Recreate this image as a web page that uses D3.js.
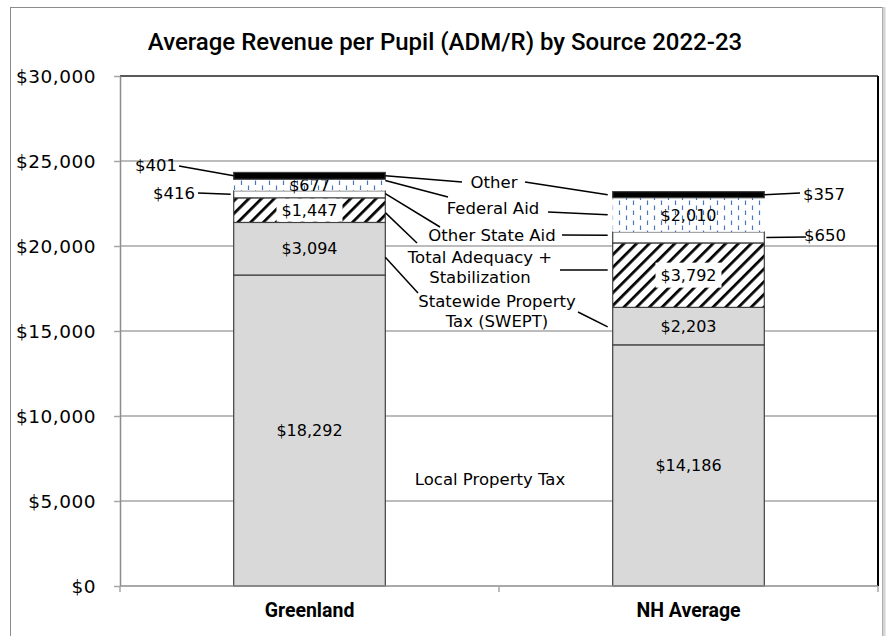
<!DOCTYPE html>
<html><head><meta charset="utf-8">
<script src="https://cdn.jsdelivr.net/npm/d3@7"></script>
<style>body{margin:0;background:#fff}text{fill:#000}</style>
</head><body><svg id="c" width="890" height="636"></svg>
<script>
const categories = ["Greenland", "NH Average"];
const sources = ["Local Property Tax", "Statewide Property Tax (SWEPT)", "Total Adequacy + Stabilization", "Other State Aid", "Federal Aid", "Other"];
const greenland = [18292, 3094, 1447, 416, 677, 401];
const nhAverage = [14186, 2203, 3792, 650, 2010, 357];
const yTicks = [0, 5000, 10000, 15000, 20000, 25000, 30000];
const title = "Average Revenue per Pupil (ADM/R) by Source 2022-23";

const BODY = "'DejaVu Sans', sans-serif", HEAD = "Roboto, 'Noto Sans', sans-serif";
const svg = d3.select("#c");
const m = {l:120, r:878, t:76, b:586};
const x = d3.scaleBand().domain(categories).range([m.l, m.r]).paddingInner(0.6).paddingOuter(0.3);
const y = d3.scaleLinear().domain([0, 30000]).range([m.b, m.t]);
const bw = x.bandwidth();
const fmt = v => "$" + d3.format(",")(v);

// defs
const defs = svg.append("defs");
const hatch = defs.append("pattern").attr("id","hatch").attr("patternUnits","userSpaceOnUse")
  .attr("width",9).attr("height",9).attr("patternTransform","rotate(45)");
hatch.append("rect").attr("width",9).attr("height",9).attr("fill","#fff");
hatch.append("line").attr("x1",0).attr("y1",0).attr("x2",0).attr("y2",9).attr("stroke","#000").attr("stroke-width",5.5);
const fed = defs.append("pattern").attr("id","fed").attr("patternUnits","userSpaceOnUse")
  .attr("width",14).attr("height",10);
fed.append("rect").attr("width",14).attr("height",10).attr("fill","#fff");
fed.append("line").attr("x1",3.5).attr("x2",3.5).attr("y1",0.5).attr("y2",5).attr("stroke","#4a78c0").attr("stroke-width",1.2);
fed.append("line").attr("x1",10.5).attr("x2",10.5).attr("y1",5.5).attr("y2",10).attr("stroke","#4a78c0").attr("stroke-width",1.2);

// outer frame
svg.append("rect").attr("x",10.5).attr("y",7.5).attr("width",872).attr("height",660).attr("fill","none").attr("stroke","#8c8c8c");
svg.append("line").attr("x1",884).attr("x2",884).attr("y1",7).attr("y2",636).attr("stroke","#d4d4d4").attr("stroke-width",3);

// title
svg.append("text").attr("x",445).attr("y",50).attr("text-anchor","middle")
  .style("font-family",HEAD).attr("font-size",24).attr("font-weight",500).text(title);

// gridlines
svg.append("g").selectAll("line").data(yTicks.filter(d=>d>0)).join("line")
  .attr("x1",m.l).attr("x2",m.r).attr("y1",d=>y(d)).attr("y2",d=>y(d))
  .attr("stroke",d=>d===30000?"#595959":"#a6a6a6").attr("stroke-width",d=>d===30000?2:1.5);
svg.append("line").attr("x1",m.r).attr("x2",m.r).attr("y1",m.t).attr("y2",m.b).attr("stroke","#000").attr("stroke-width",2);

// y axis
const ya = svg.append("g").attr("transform",`translate(${m.l},0)`)
  .call(d3.axisLeft(y).tickValues(yTicks).tickFormat(fmt).tickSize(6).tickSizeOuter(0));
ya.select(".domain").attr("stroke","#8c8c8c").attr("stroke-width",1.5);
ya.selectAll(".tick line").attr("stroke","#a6a6a6").attr("stroke-width",1.5);
ya.selectAll("text").attr("x",-24).attr("text-anchor","end").attr("font-size",18.5).attr("letter-spacing",0.5)
  .style("font-family",BODY).attr("fill","#000").attr("dy","0.36em");

// bars
const rows = categories.map((c,i)=>{ const vals = i===0?greenland:nhAverage; let acc=0;
  return vals.map((v,j)=>{ const s={cat:c, src:j, v, y0:acc, y1:acc+v}; acc+=v; return s;}); });
const fills = ["#d9d9d9","#d9d9d9","url(#hatch)","#fff","url(#fed)","#000"];
const drawSeg = (sel,s)=>sel.append("rect").attr("x",x(s.cat)).attr("width",bw).attr("y",y(s.y1)).attr("height",y(s.y0)-y(s.y1))
   .attr("fill",fills[s.src]).attr("stroke",s.src===4?"none":"#404040").attr("stroke-width",1.2);
const g = svg.append("g");
rows.flat().filter(s=>s.src!==5).forEach(s=>drawSeg(g,s));

// x axis
svg.append("line").attr("x1",m.l).attr("x2",m.r).attr("y1",m.b).attr("y2",m.b).attr("stroke","#8c8c8c").attr("stroke-width",1.5);
[m.l,(m.l+m.r)/2,m.r].forEach(px=>svg.append("line").attr("x1",px).attr("x2",px).attr("y1",m.b).attr("y2",m.b+6).attr("stroke","#a6a6a6").attr("stroke-width",1.5));
svg.append("g").selectAll("text").data(categories).join("text")
  .attr("x",d=>x(d)+bw/2).attr("y",617).attr("text-anchor","middle").style("font-family",HEAD)
  .attr("font-size",19.5).attr("font-weight",700).text(d=>d);

// value labels inside bars
const inside = [[0,1,2,4],[0,1,2,4]];
rows.forEach((r,i)=>{ inside[i].forEach(j=>{ const s=r[j]; const cx=x(s.cat)+bw/2; const cy=y((s.y0+s.y1)/2);
  const t = svg.append("text").attr("x",cx).attr("y",cy).attr("dy","0.36em").attr("text-anchor","middle").style("font-family",BODY).attr("font-size",16).text(fmt(s.v));
  if(j===2){ const bb=t.node().getBBox(); const h=Math.min(bb.height+6, y(s.y0)-y(s.y1)-1.5);
    svg.insert("rect", ()=>t.node()).attr("x",bb.x-5).attr("y",cy-h/2).attr("width",bb.width+10).attr("height",h).attr("fill","#fff"); }
});});
// "Other" segments drawn on top of labels
const g2 = svg.append("g");
rows.flat().filter(s=>s.src===5).forEach(s=>drawSeg(g2,s));

// side labels with leaders
const gl = rows[0], nh = rows[1];
const gx0 = x(categories[0]), gx1 = x(categories[0])+bw, nx0 = x(categories[1]), nx1 = x(categories[1])+bw;
const segY = (s,f)=>y(s.y0 + (s.y1-s.y0)*f);
const leader = (x1,y1,x2,y2)=>svg.append("line").attr("x1",x1).attr("y1",y1).attr("x2",x2).attr("y2",y2).attr("stroke","#000").attr("stroke-width",1.5);
const lab = (t,px,py,anchor)=>svg.append("text").attr("x",px).attr("y",py).attr("dy","0.36em").attr("text-anchor",anchor).style("font-family",BODY).attr("font-size",16.5).text(t);
lab(fmt(gl[5].v),177,165,"end"); leader(179,166,gx0,segY(gl[5],0.5));
lab(fmt(gl[3].v),195,193,"end"); leader(198,193,gx0-3,segY(gl[3],0.5));
lab(fmt(nh[5].v),803,194,"start"); leader(nx1,segY(nh[5],0.5),800,193);
lab(fmt(nh[3].v),804,235,"start"); leader(nx1+2,segY(nh[3],0.5),806,237);

// middle category labels with leaders to both bars
const mid = [
  {lines:["Other"], cx:494, cy:182, gf:0.5, nf:0.5, gl:[462,182], nl:[525,182]},
  {lines:["Federal Aid"], cx:493, cy:208, gf:0.9, nf:0.5, gl:[448,197], nl:[548,212]},
  {lines:["Other State Aid"], cx:492, cy:235, gf:0.6, nf:0.7, gl:[440,227], nl:[562,235]},
  {lines:["Total Adequacy +","Stabilization"], cx:480, cy:267, gf:0.4, nf:0.58, gl:[417,243], nl:[560,270]},
  {lines:["Statewide Property","Tax (SWEPT)"], cx:497, cy:311, gf:0.34, nf:0.48, gl:[418,293], nl:[578,312]}
];
const srcIdx = [5,4,3,2,1];
mid.forEach((d,k)=>{
  const j = srcIdx[k];
  d.lines.forEach((t,li)=>lab(t,d.cx,d.cy+(li-(d.lines.length-1)/2)*19.5,"middle"));
  leader(gx1, segY(gl[j],d.gf), d.gl[0], d.gl[1]);
  leader(d.nl[0], d.nl[1], nx0-5, segY(nh[j],d.nf));
});
lab(sources[0],490,479,"middle");
</script></body></html>
